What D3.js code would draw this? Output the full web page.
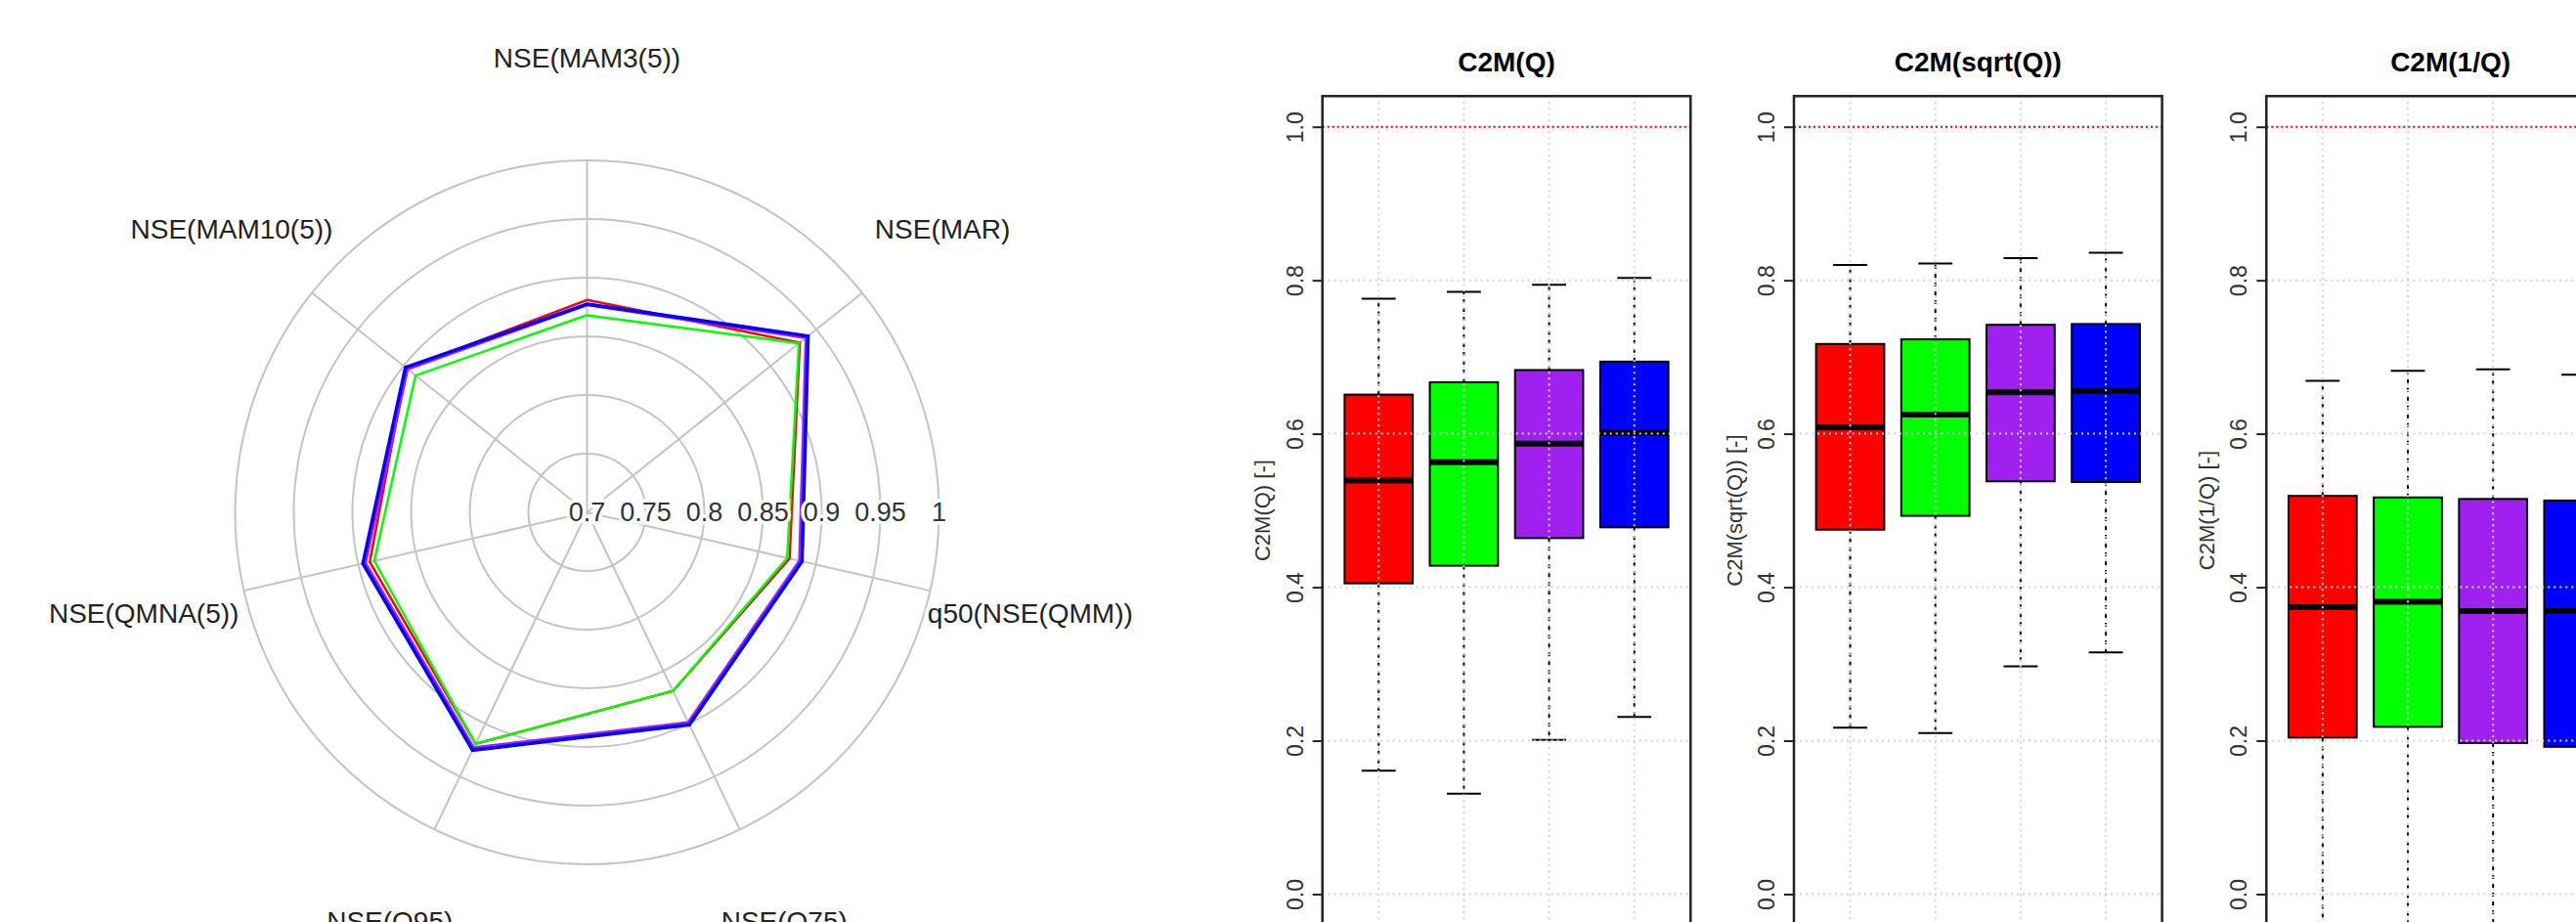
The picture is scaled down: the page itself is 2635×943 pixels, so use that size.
<!DOCTYPE html>
<meta charset="utf-8">
<style>
  body { margin: 0; background: #fff; }
  text { font-family: "Liberation Sans", Arial, sans-serif; }
</style>
<body>
<div id="chart"></div>
<script src="https://d3js.org/d3.v7.min.js"></script>
<script>

// radar chart data
var axesNames = ["NSE(MAM3(5))", "NSE(MAR)", "q50(NSE(QMM))", "NSE(Q75)", "NSE(Q95)", "NSE(QMNA(5))", "NSE(MAM10(5))"];
var radarTicks = [0.7, 0.75, 0.8, 0.85, 0.9, 0.95, 1];
var radarRed    = [0.881, 0.932, 0.877, 0.869, 0.919, 0.890, 0.897];
var radarGreen  = [0.868, 0.931, 0.875, 0.869, 0.919, 0.886, 0.887];
var radarPurple = [0.877, 0.939, 0.886, 0.899, 0.923, 0.894, 0.896];
var radarBlue   = [0.8775, 0.941, 0.888, 0.901, 0.925, 0.896, 0.898];

// boxplot data: [lower whisker, q1, median, q3, upper whisker]
var panelTitles = ["C2M(Q)", "C2M(sqrt(Q))", "C2M(1/Q)"];
var panelYlabs = ["C2M(Q) [-]", "C2M(sqrt(Q)) [-]", "C2M(1/Q) [-]"];
var boxQ     = [[0.161, 0.405, 0.539, 0.651, 0.776], [0.131, 0.428, 0.563, 0.667, 0.785],
                [0.201, 0.464, 0.587, 0.683, 0.794], [0.231, 0.478, 0.601, 0.694, 0.803]];
var boxSqrtQ = [[0.217, 0.475, 0.608, 0.717, 0.820], [0.210, 0.493, 0.625, 0.723, 0.822],
                [0.297, 0.538, 0.654, 0.742, 0.829], [0.315, 0.537, 0.656, 0.743, 0.836]];
var boxInvQ  = [[-0.3, 0.204, 0.374, 0.519, 0.669], [-0.3, 0.218, 0.381, 0.517, 0.682],
                [-0.3, 0.197, 0.369, 0.515, 0.684], [-0.3, 0.192, 0.369, 0.513, 0.677]];
var yTicks = [0, 0.2, 0.4, 0.6, 0.8, 1.0];

var colors = ["#ff0000", "#00ff00", "#a020f0", "#0000ff"];

var W = 2635, H = 943;
var svg = d3.select("#chart").append("svg")
  .attr("width", W).attr("height", H);
svg.append("rect").attr("width", W).attr("height", H).attr("fill", "#fff");

// ---------- radar ----------
var cx = 600.5, cy = 524;
var r = d3.scaleLinear().domain([0.7, 1]).range([0, 360]);
var step = 2 * Math.PI / axesNames.length;

var radar = svg.append("g").attr("transform", "translate(" + cx + "," + cy + ")");

radar.selectAll("circle.ring")
  .data(radarTicks.slice(1))
  .enter().append("circle")
    .attr("r", function(d) { return r(d); })
    .attr("fill", "none")
    .attr("stroke", "#c4c4c4")
    .attr("stroke-width", 2);

radar.selectAll("line.spoke")
  .data(axesNames)
  .enter().append("line")
    .attr("x1", 0).attr("y1", 0)
    .attr("x2", function(d, i) { return r(1) * Math.sin(i * step); })
    .attr("y2", function(d, i) { return -r(1) * Math.cos(i * step); })
    .attr("stroke", "#c4c4c4")
    .attr("stroke-width", 2);

var radarLine = d3.lineRadial()
  .angle(function(d, i) { return i * step; })
  .radius(function(d) { return r(d); })
  .curve(d3.curveLinearClosed);

var series = [radarRed, radarGreen, radarPurple, radarBlue];
var widths = [2.5, 2.5, 3.5, 3.5];
series.forEach(function(s, k) {
  radar.append("path")
    .attr("d", radarLine(s))
    .attr("fill", "none")
    .attr("stroke", colors[k])
    .attr("stroke-width", widths[k])
    .attr("stroke-linejoin", "miter");
});

radar.selectAll("text.tick")
  .data(radarTicks)
  .enter().append("text")
    .attr("x", function(d) { return r(d); })
    .attr("y", 0)
    .attr("text-anchor", "middle")
    .attr("dominant-baseline", "central")
    .attr("font-size", 27)
    .attr("fill", "#333")
    .attr("stroke", "#fff").attr("stroke-width", 7).attr("paint-order", "stroke")
    .text(function(d) { return String(d); });

radar.selectAll("text.axis")
  .data(axesNames)
  .enter().append("text")
    .attr("x", function(d, i) { return 465 * Math.sin(i * step); })
    .attr("y", function(d, i) { return -465 * Math.cos(i * step); })
    .attr("text-anchor", "middle")
    .attr("dominant-baseline", "central")
    .attr("font-size", 28)
    .attr("fill", "#222")
    .attr("stroke", "#fff").attr("stroke-width", 8).attr("paint-order", "stroke")
    .text(function(d) { return d; });

// ---------- boxplots ----------
var panelData = [boxQ, boxSqrtQ, boxInvQ];
var panelLefts = [1352.7, 1835, 2318.3];
var panelW = 376.6, plotTop = 98.3, plotBottom = 945.9;

var y = d3.scaleLinear().domain([-0.04, 1.04]).range([plotBottom, plotTop]);

panelData.forEach(function(data, p) {
  var left = panelLefts[p];
  var x = d3.scaleLinear().domain([0.34, 4.66]).range([left, left + panelW]);
  var bw = x(1.4) - x(1);
  var g = svg.append("g");

  svg.append("clipPath").attr("id", "clip" + p)
    .append("rect").attr("x", left).attr("y", plotTop).attr("width", panelW).attr("height", plotBottom - plotTop);
  var plot = g.append("g").attr("clip-path", "url(#clip" + p + ")");

  data.forEach(function(d, i) {
    var xc = x(i + 1);
    // whiskers
    plot.append("line").attr("x1", xc).attr("x2", xc).attr("y1", y(d[3])).attr("y2", y(d[4]))
      .attr("stroke", "#000").attr("stroke-width", 2).attr("stroke-dasharray", "4,5");
    plot.append("line").attr("x1", xc).attr("x2", xc).attr("y1", y(d[1])).attr("y2", y(d[0]))
      .attr("stroke", "#000").attr("stroke-width", 2).attr("stroke-dasharray", "4,5");
    // staples
    [d[0], d[4]].forEach(function(v) {
      plot.append("line").attr("x1", xc - bw / 2).attr("x2", xc + bw / 2).attr("y1", y(v)).attr("y2", y(v))
        .attr("stroke", "#000").attr("stroke-width", 2);
    });
    // box
    plot.append("rect")
      .attr("x", xc - bw).attr("width", 2 * bw)
      .attr("y", y(d[3])).attr("height", y(d[1]) - y(d[3]))
      .attr("fill", colors[i]).attr("stroke", "#000").attr("stroke-width", 2);
    // median
    plot.append("line").attr("x1", xc - bw).attr("x2", xc + bw).attr("y1", y(d[2])).attr("y2", y(d[2]))
      .attr("stroke", "#000").attr("stroke-width", 6);
  });

  // grid on top
  yTicks.forEach(function(t) {
    plot.append("line").attr("x1", left).attr("x2", left + panelW).attr("y1", y(t)).attr("y2", y(t))
      .attr("stroke", "#d3d3d3").attr("stroke-width", 2).attr("stroke-dasharray", "2,4");
  });
  data.forEach(function(d, i) {
    plot.append("line").attr("x1", x(i + 1)).attr("x2", x(i + 1)).attr("y1", plotTop).attr("y2", plotBottom)
      .attr("stroke", "#d3d3d3").attr("stroke-width", 2).attr("stroke-dasharray", "2,4");
  });
  plot.append("line").attr("x1", left).attr("x2", left + panelW).attr("y1", y(1)).attr("y2", y(1))
    .attr("stroke", "#ff0000").attr("stroke-width", 2).attr("stroke-dasharray", "2,3");

  // frame
  g.append("rect").attr("x", left).attr("y", plotTop).attr("width", panelW).attr("height", plotBottom - plotTop)
    .attr("fill", "none").attr("stroke", "#222").attr("stroke-width", 2.5);

  // y axis
  var ax = g.append("g").attr("transform", "translate(" + left + ",0)")
    .call(d3.axisLeft(y).tickValues(yTicks).tickSize(10).tickFormat(d3.format(".1f")));
  ax.select(".domain").remove();
  ax.selectAll(".tick line").attr("stroke", "#222").attr("stroke-width", 2);
  ax.selectAll(".tick text")
    .attr("x", 0).attr("dy", null)
    .attr("transform", "translate(-28,0) rotate(-90)")
    .attr("text-anchor", "middle")
    .attr("dominant-baseline", "central")
    .attr("font-size", 23)
    .attr("font-family", "Liberation Sans, Arial, sans-serif")
    .attr("fill", "#333");

  g.append("text")
    .attr("transform", "translate(" + (left - 61) + "," + ((plotTop + plotBottom) / 2) + ") rotate(-90)")
    .attr("text-anchor", "middle")
    .attr("dominant-baseline", "central")
    .attr("font-size", 22)
    .attr("fill", "#333")
    .text(panelYlabs[p]);

  g.append("text")
    .attr("x", left + panelW / 2).attr("y", 72.5)
    .attr("text-anchor", "middle")
    .attr("font-size", 28)
    .attr("font-weight", "bold")
    .attr("fill", "#000")
    .text(panelTitles[p]);
});

</script>
